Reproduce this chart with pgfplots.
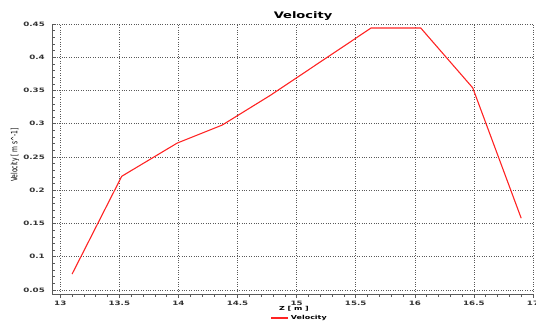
\documentclass[border=0pt]{standalone}
\usepackage{fontspec}
\setmainfont{DejaVu Sans}
\usepackage{graphicx}
\usepackage{pgfplots}
\pgfplotsset{compat=1.18}
\definecolor{vred}{RGB}{255,35,35}
\definecolor{axgray}{RGB}{90,90,90}
\newcommand{\sx}[1]{\scalebox{1.45}[1]{#1}}
\begin{document}
\begin{tikzpicture}
\useasboundingbox (-52pt,-30pt) rectangle (484pt,294pt);
\begin{axis}[
  scale only axis,
  width=481pt, height=270pt,
  xmin=12.93, xmax=17, ymin=0.044, ymax=0.45,
  axis x line=bottom, axis y line=left,
  axis line style={-, axgray, line width=0.7pt},
  xtick={13,13.5,14,14.5,15,15.5,16,16.5,17},
  xticklabels={\sx{13},\sx{13.5},\sx{14},\sx{14.5},\sx{15},\sx{15.5},\sx{16},\sx{16.5},\sx{17}},
  ytick={0.05,0.1,0.15,0.2,0.25,0.3,0.35,0.4,0.45},
  yticklabels={\sx{0.05},\sx{0.1},\sx{0.15},\sx{0.2},\sx{0.25},\sx{0.3},\sx{0.35},\sx{0.4},\sx{0.45}},
  minor x tick num=4, minor y tick num=4,
  x tick label style={font=\fontsize{6}{7}\selectfont\bfseries, text=black!80, inner sep=0pt, anchor=north, yshift=-3pt},
  y tick label style={font=\fontsize{6}{7}\selectfont\bfseries, text=black!80, inner sep=0pt, anchor=east, xshift=-7pt},
  xtick align=outside, ytick align=inside,
  major tick length=4pt, minor tick length=3pt,
  every tick/.style={axgray, line width=0.6pt},
  grid=major,
  major grid style={dotted, black!65, line width=0.6pt},
  xlabel={\sx{Z [ m ]}},
  xlabel style={font=\fontsize{5.5}{6}\selectfont\bfseries, at={(axis description cs:0.503,-0.056)}, anchor=center, inner sep=0pt},
  ylabel={\scalebox{1}[1.45]{Velocity [ m s\textasciicircum-1]}},
  ylabel style={font=\fontsize{6}{7}\selectfont, at={(axis description cs:-0.077,0.515)}, anchor=center, inner sep=0pt},
  legend style={draw=none, fill=none, at={(axis description cs:0.515,-0.089)}, anchor=center, font=\fontsize{5.5}{6}\selectfont\bfseries, inner sep=0pt, legend cell align=left},
  clip=false,
]
\addplot[vred, line width=1.1pt] coordinates {
  (13.10,0.074) (13.52,0.221) (13.99,0.271) (14.37,0.298) (14.78,0.343)
  (15.63,0.444) (16.05,0.444) (16.49,0.354) (16.90,0.158)
};
\addlegendentry{\sx{Velocity}}
\node[anchor=base, inner sep=0pt, font=\fontsize{9}{10}\selectfont\bfseries] at (axis description cs:0.522,1.022) {\sx{Velocity}};
\end{axis}
\end{tikzpicture}
\end{document}
